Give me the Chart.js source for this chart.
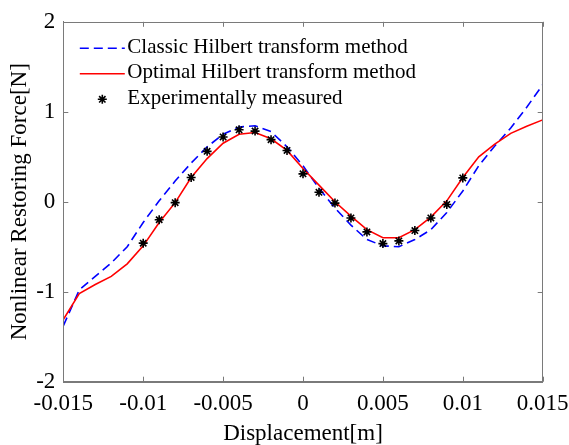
<!DOCTYPE html>
<html>
<head>
<meta charset="utf-8">
<script src="https://cdn.jsdelivr.net/npm/chart.js@4.4.0/dist/chart.umd.min.js"></script>
<style>
html, body { margin: 0; padding: 0; background: #ffffff; }
</style>
</head>
<body>
<canvas id="grafico" width="569" height="445"></canvas>
<script>
// desplazamientos de las curvas (m)
var xCurvas = [-0.015, -0.014, -0.013, -0.012, -0.011, -0.010, -0.009, -0.008, -0.007, -0.006,
               -0.005, -0.004, -0.003, -0.002, -0.001, 0, 0.001, 0.002, 0.003, 0.004,
               0.005, 0.006, 0.007, 0.008, 0.009, 0.010, 0.011, 0.012, 0.013, 0.014, 0.015];
// Classic Hilbert transform method
var fuerzaClasica = [-1.38, -0.98, -0.83, -0.68, -0.50, -0.23, 0.01, 0.23, 0.43, 0.61,
                     0.75, 0.83, 0.845, 0.78, 0.61, 0.40, 0.15, -0.07, -0.26, -0.42,
                     -0.49, -0.50, -0.42, -0.31, -0.12, 0.12, 0.40, 0.62, 0.82, 1.05, 1.30];
// Optimal Hilbert transform method
var fuerzaOptima = [-1.31, -1.02, -0.92, -0.83, -0.69, -0.49, -0.23, -0.01, 0.27, 0.48,
                    0.65, 0.75, 0.77, 0.70, 0.57, 0.37, 0.185, 0.0, -0.16, -0.31,
                    -0.40, -0.40, -0.31, -0.17, 0.01, 0.27, 0.50, 0.64, 0.76, 0.84, 0.91];
// Experimentally measured
var xMedidos = [-0.010, -0.009, -0.008, -0.007, -0.006, -0.005, -0.004, -0.003, -0.002, -0.001,
                0, 0.001, 0.002, 0.003, 0.004, 0.005, 0.006, 0.007, 0.008, 0.009, 0.010];
var fuerzaMedida = [-0.46, -0.20, -0.01, 0.27, 0.56, 0.72, 0.80, 0.785, 0.69, 0.57,
                    0.31, 0.105, -0.015, -0.18, -0.335, -0.465, -0.435, -0.32, -0.18, -0.03, 0.265];
var ticksX = [-0.015, -0.01, -0.005, 0, 0.005, 0.01, 0.015];
var ticksY = [-2, -1, 0, 1, 2];

function puntos(xs, ys) {
    return xs.map(function (x, i) { return { x: x, y: ys[i] }; });
}

var fuente = "'Liberation Serif', 'Times New Roman', serif";
var gris = "#7a7a7a";

// marco y marcas hacia dentro
var marco = {
    id: "marco",
    afterDraw: function (chart) {
        var ctx = chart.ctx;
        var a = chart.chartArea;
        var sx = chart.scales.x, sy = chart.scales.y;
        ctx.save();
        ctx.strokeStyle = gris;
        ctx.lineWidth = 1;
        ticksX.forEach(function (v) {
            var px = Math.round(sx.getPixelForValue(v)) + 0.5;
            ctx.beginPath();
            ctx.moveTo(px, a.bottom); ctx.lineTo(px, a.bottom - 5);
            ctx.moveTo(px, a.top); ctx.lineTo(px, a.top + 5);
            ctx.stroke();
        });
        ticksY.forEach(function (v) {
            var py = Math.round(sy.getPixelForValue(v)) + 0.5;
            ctx.beginPath();
            ctx.moveTo(a.left, py); ctx.lineTo(a.left + 5, py);
            ctx.moveTo(a.right, py); ctx.lineTo(a.right - 5, py);
            ctx.stroke();
        });
        ctx.strokeRect(Math.round(a.left) + 0.5, Math.round(a.top) + 0.5,
                       Math.round(a.right - a.left), Math.round(a.bottom - a.top));
        ctx.restore();
    }
};

// leyenda dentro del área
var leyenda = {
    id: "leyenda",
    afterDraw: function (chart) {
        var ctx = chart.ctx;
        var a = chart.chartArea;
        ctx.save();
        ctx.font = "21px " + fuente;
        ctx.textBaseline = "middle";
        chart.data.datasets.forEach(function (ds, i) {
            var y = a.top + 26.5 + i * 25.5;
            var x0 = a.left + 16.5;
            if (ds.showLine) {
                ctx.strokeStyle = ds.borderColor;
                ctx.lineWidth = ds.borderWidth;
                ctx.setLineDash(ds.borderDash || []);
                ctx.beginPath();
                ctx.moveTo(x0, y);
                ctx.lineTo(x0 + 45, y);
                ctx.stroke();
                ctx.setLineDash([]);
            } else {
                ctx.strokeStyle = ds.pointBorderColor;
                ctx.fillStyle = ds.pointBorderColor;
                Chart.helpers.drawPoint(ctx, {
                    pointStyle: ds.pointStyle,
                    radius: ds.pointRadius,
                    borderWidth: ds.pointBorderWidth,
                    rotation: 0
                }, x0 + 22.5, y);
            }
            ctx.fillStyle = "#000000";
            ctx.fillText(ds.label, x0 + 47.5, y - 1);
        });
        ctx.restore();
    }
};

function cargaGrafico() {
    var grafico = document.getElementById("grafico").getContext("2d");
    new Chart(grafico, {
        type: "scatter",
        data: {
            datasets: [{
                label: "Classic Hilbert transform method",
                data: puntos(xCurvas, fuerzaClasica),
                showLine: true,
                borderColor: "#0000ff",
                borderWidth: 1.6,
                borderDash: [9, 5],
                pointRadius: 0,
                order: 2
            }, {
                label: "Optimal Hilbert transform method",
                data: puntos(xCurvas, fuerzaOptima),
                showLine: true,
                borderColor: "#ff0000",
                borderWidth: 1.6,
                pointRadius: 0,
                order: 1
            }, {
                label: "Experimentally measured",
                data: puntos(xMedidos, fuerzaMedida),
                showLine: false,
                pointStyle: "star",
                pointRadius: 4.5,
                pointBorderWidth: 1.6,
                pointBorderColor: "#000000",
                pointBackgroundColor: "#000000",
                order: 0
            }]
        },
        options: {
            responsive: false,
            animation: false,
            devicePixelRatio: 1,
            layout: { padding: { top: 15.5, right: 26.3, bottom: 0, left: 0 } },
            plugins: {
                legend: { display: false },
                tooltip: { enabled: false }
            },
            scales: {
                x: {
                    type: "linear",
                    min: -0.015,
                    max: 0.015,
                    afterBuildTicks: function (s) {
                        s.ticks = ticksX.map(function (v) { return { value: v }; });
                    },
                    afterFit: function (s) {
                        s.height = 63.3;
                        s.paddingLeft = 0;
                        s.paddingRight = 0;
                    },
                    grid: { display: false, drawTicks: false },
                    border: { display: true, color: gris },
                    ticks: {
                        color: "#000000",
                        padding: 8,
                        maxRotation: 0,
                        autoSkip: false,
                        font: { family: fuente, size: 23 },
                        callback: function (v) { return String(v); }
                    },
                    title: {
                        display: true,
                        text: "Displacement[m]",
                        color: "#000000",
                        font: { family: fuente, size: 23 },
                        padding: { top: 0, bottom: -2.5 }
                    }
                },
                y: {
                    type: "linear",
                    min: -2,
                    max: 2,
                    afterBuildTicks: function (s) {
                        s.ticks = ticksY.map(function (v) { return { value: v }; });
                    },
                    afterFit: function (s) {
                        s.width = 63.3;
                    },
                    grid: { display: false, drawTicks: false },
                    border: { display: true, color: gris },
                    ticks: {
                        color: "#000000",
                        padding: 8,
                        font: { family: fuente, size: 23 },
                        callback: function (v) { return String(v); }
                    },
                    title: {
                        display: true,
                        text: "Nonlinear Restoring Force[N]",
                        color: "#000000",
                        font: { family: fuente, size: 23 },
                        padding: { top: 6, bottom: 0 }
                    }
                }
            }
        },
        plugins: [marco, leyenda]
    });
}

window.onload = function () {
    "use strict";
    cargaGrafico();
};
</script>
</body>
</html>
